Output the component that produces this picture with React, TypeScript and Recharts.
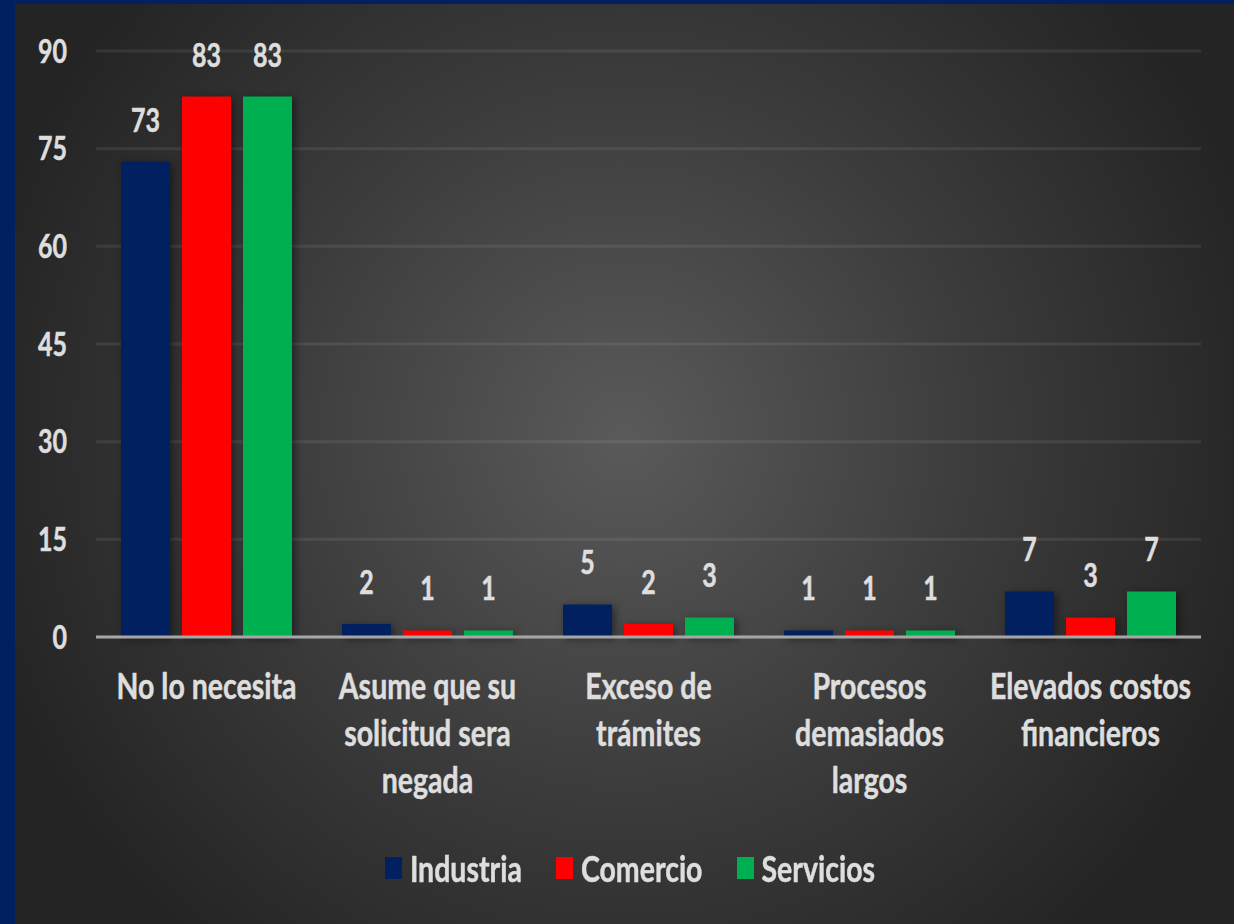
import React from "react";
import { BarChart, Bar, XAxis, YAxis, CartesianGrid, Legend, LabelList } from "recharts";

// category labels, one entry per line as they wrap in the picture
const categoryLines = [
  ["No lo necesita"],
  ["Asume que su", "solicitud sera", "negada"],
  ["Exceso de", "trámites"],
  ["Procesos", "demasiados", "largos"],
  ["Elevados costos", "financieros"],
];
const categories = categoryLines.map((l) => l.join(" "));

const industria = [73, 2, 5, 1, 7];
const comercio = [83, 1, 2, 1, 3];
const servicios = [83, 1, 3, 1, 7];

const yTicks = [0, 15, 30, 45, 60, 75, 90];

const series = [
  { key: "Industria", values: industria, color: "#002060" },
  { key: "Comercio", values: comercio, color: "#FF0000" },
  { key: "Servicios", values: servicios, color: "#00B050" },
];

const data = categories.map((name, i) => ({
  name,
  Industria: industria[i],
  Comercio: comercio[i],
  Servicios: servicios[i],
}));

const FONT = "Lato, 'Open Sans', sans-serif";
const TEXT = "#dedede";
const STRETCH = 1.3;

const CategoryTick = (props: any) => {
  const { x, y, payload } = props;
  const lines = categoryLines[payload.index] || [payload.value];
  return (
    <g transform={`translate(${x},${y}) scale(1,${STRETCH})`}>
      {lines.map((line, i) => (
        <text
          key={i}
          x={0}
          y={48 + i * 36}
          textAnchor="middle"
          fill={TEXT}
          stroke={TEXT}
          strokeWidth={0.4}
          fontFamily={FONT}
          fontWeight={700}
          fontSize={28.5}
        >
          {line}
        </text>
      ))}
    </g>
  );
};

const ValueTick = (props: any) => {
  const { x, y, payload } = props;
  return (
    <g transform={`translate(${x},${y}) scale(1,${STRETCH})`}>
      <text x={0} y={9} textAnchor="end" fill={TEXT} stroke={TEXT} strokeWidth={0.4} fontFamily={FONT} fontWeight={700} fontSize={25}>
        {payload.value}
      </text>
    </g>
  );
};

const BarValue = (props: any) => {
  const { x, y, width, value } = props;
  return (
    <g transform={`translate(${x + width / 2},${y - 30}) scale(1,${STRETCH})`}>
      <text x={0} y={0} textAnchor="middle" fill={TEXT} stroke={TEXT} strokeWidth={0.4} fontFamily={FONT} fontWeight={700} fontSize={25}>
        {value}
      </text>
    </g>
  );
};

const LegendContent = () => (
  <div
    style={{
      display: "flex",
      justifyContent: "center",
      alignItems: "center",
      height: 40,
      gap: 34,
      paddingLeft: 44,
      fontFamily: FONT,
      fontWeight: 700,
      fontSize: 28.5,
      color: TEXT,
      WebkitTextStroke: `0.4px ${TEXT}`,
    }}
  >
    {series.map((s) => (
      <div key={s.key} style={{ display: "flex", alignItems: "center", gap: 8 }}>
        <span style={{ width: 17, height: 22, background: s.color, display: "inline-block" }} />
        <span style={{ display: "inline-block", transform: `scaleY(${STRETCH})` }}>{s.key}</span>
      </div>
    ))}
  </div>
);

export default function App() {
  return (
    <div
      style={{
        width: 1234,
        height: 924,
        boxSizing: "border-box",
        borderLeft: "15px solid #002060",
        borderTop: "4px solid #002060",
        background: "radial-gradient(circle at 50% 47%, #5a5a5a 0%, #3c3c3c 45%, #242424 85%)",
      }}
    >
      <style>{`body{margin:0} .recharts-bar-rectangle path{filter:drop-shadow(3px 2px 4px rgba(0,0,0,0.45))}`}</style>
      <BarChart
        width={1219}
        height={920}
        data={data}
        margin={{ top: 47, right: 33, left: 0, bottom: 36 }}
        barSize={49}
        barGap={12}
      >
        <CartesianGrid vertical={false} stroke="rgba(255,255,255,0.08)" strokeWidth={3} />
        <XAxis
          dataKey="name"
          height={211}
          interval={0}
          tickLine={false}
          tickSize={0}
          tickMargin={0}
          axisLine={{ stroke: "#a6a6a6", strokeWidth: 3 }}
          tick={<CategoryTick />}
        />
        <YAxis
          width={81}
          domain={[0, 90]}
          ticks={yTicks}
          axisLine={false}
          tickLine={false}
          tickSize={0}
          tickMargin={29}
          tick={<ValueTick />}
        />
        <Legend verticalAlign="bottom" height={40} content={<LegendContent />} />
        {series.map((s) => (
          <Bar key={s.key} dataKey={s.key} fill={s.color} isAnimationActive={false}>
            <LabelList dataKey={s.key} content={<BarValue />} />
          </Bar>
        ))}
      </BarChart>
    </div>
  );
}
